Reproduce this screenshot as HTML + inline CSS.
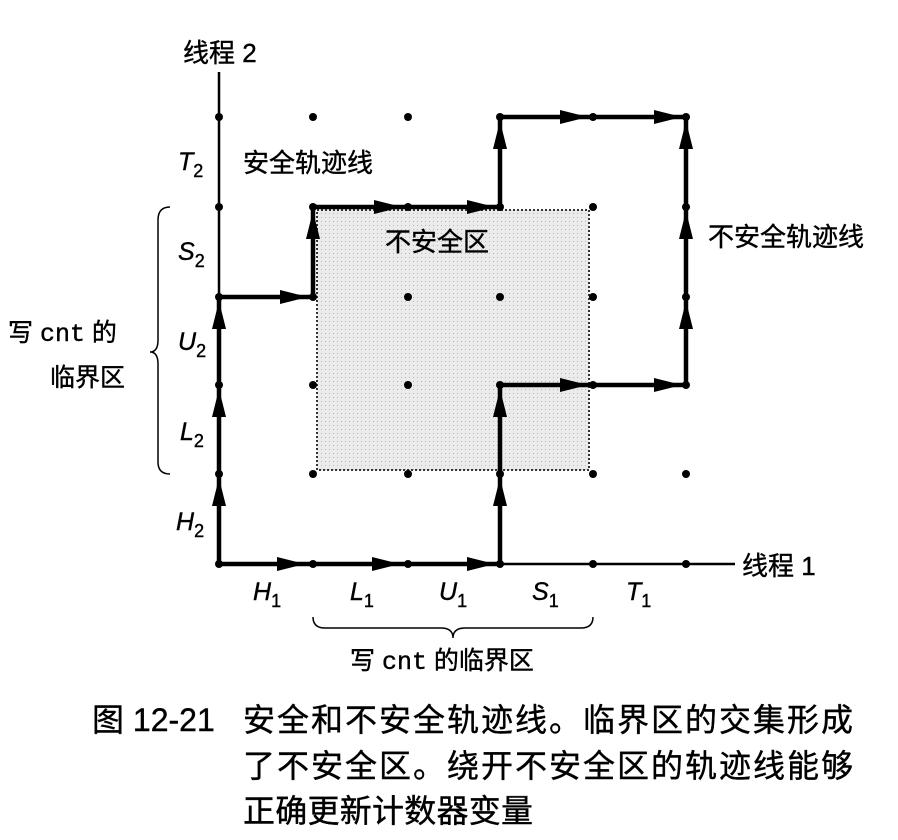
<!DOCTYPE html>
<html><head><meta charset="utf-8"><style>
html,body{margin:0;padding:0;background:#fff;}
svg{display:block;}
text{font-family:"Liberation Sans","Noto Sans CJK SC",sans-serif;fill:#000;stroke:#000;stroke-width:0.4;}
.it{font-style:italic;}
</style></head><body>
<svg width="898" height="840" viewBox="0 0 898 840" xmlns="http://www.w3.org/2000/svg">
<defs>
<pattern id="dots" width="4" height="4" patternUnits="userSpaceOnUse">
<rect width="4" height="4" fill="#ebebeb"/><rect x="1" y="1" width="1" height="1" fill="#b8b8b8"/>
</pattern>
</defs>
<rect x="317" y="210" width="272" height="260" fill="url(#dots)" stroke="#333" stroke-width="2" stroke-dasharray="2,2"/>
<line x1="219" y1="72" x2="219" y2="564" stroke="#000" stroke-width="2.5"/>
<line x1="219" y1="564" x2="735" y2="564" stroke="#000" stroke-width="2.5"/>
<g fill="#000">
<circle cx="219" cy="117" r="4"/><circle cx="313" cy="117" r="4"/><circle cx="408" cy="117" r="4"/><circle cx="500" cy="117" r="4"/><circle cx="593" cy="117" r="4"/><circle cx="686" cy="117" r="4"/>
<circle cx="219" cy="207" r="4"/><circle cx="313" cy="207" r="4"/><circle cx="408" cy="207" r="4"/><circle cx="500" cy="207" r="4"/><circle cx="593" cy="207" r="4"/><circle cx="686" cy="207" r="4"/>
<circle cx="219" cy="297" r="4"/><circle cx="313" cy="297" r="4"/><circle cx="408" cy="297" r="4"/><circle cx="500" cy="297" r="4"/><circle cx="593" cy="297" r="4"/><circle cx="686" cy="297" r="4"/>
<circle cx="219" cy="385" r="4"/><circle cx="313" cy="385" r="4"/><circle cx="408" cy="385" r="4"/><circle cx="500" cy="385" r="4"/><circle cx="593" cy="385" r="4"/><circle cx="686" cy="385" r="4"/>
<circle cx="219" cy="474" r="4"/><circle cx="313" cy="474" r="4"/><circle cx="408" cy="474" r="4"/><circle cx="500" cy="474" r="4"/><circle cx="593" cy="474" r="4"/><circle cx="686" cy="474" r="4"/>
<circle cx="219" cy="564" r="4"/><circle cx="313" cy="564" r="4"/><circle cx="408" cy="564" r="4"/><circle cx="500" cy="564" r="4"/><circle cx="593" cy="564" r="4"/><circle cx="686" cy="564" r="4"/>
</g>
<polyline points="219,564 219,297 313,297 313,207 500,207 500,117 686,117" fill="none" stroke="#000" stroke-width="4.5"/>
<polyline points="219,564 500,564 500,385 686,385 686,117" fill="none" stroke="#000" stroke-width="4.5"/>
<g fill="#000">
<polygon points="219,478 212,506 226,506"/>
<polygon points="219,389 212,417 226,417"/>
<polygon points="219,301 212,329 226,329"/>
<polygon points="308,297 280,290 280,304"/>
<polygon points="313,211 306,239 320,239"/>
<polygon points="402,207 374,200 374,214"/>
<polygon points="495,207 467,200 467,214"/>
<polygon points="500,121 493,149 507,149"/>
<polygon points="588,117 560,110 560,124"/>
<polygon points="682,117 654,110 654,124"/>
<polygon points="305,564 277,557 277,571"/>
<polygon points="400,564 372,557 372,571"/>
<polygon points="495,564 467,557 467,571"/>
<polygon points="500,478 493,506 507,506"/>
<polygon points="500,389 493,417 507,417"/>
<polygon points="588,385 560,378 560,392"/>
<polygon points="682,385 654,378 654,392"/>
<polygon points="686,301 679,329 693,329"/>
<polygon points="686,211 679,239 693,239"/>
<polygon points="686,121 679,149 693,149"/>
</g>
<path d="M170,207 Q158,207 158,220 L158,340 Q158,352 150,352 Q158,352 158,364 L158,462 Q158,474 170,474" fill="none" stroke="#000" stroke-width="1.5"/>
<path d="M313,617 Q313,628 325,628 L441,628 Q453,628 453,638 Q453,628 465,628 L581,628 Q593,628 593,617" fill="none" stroke="#000" stroke-width="1.5"/>
<text x="183" y="62" font-size="26">线程 2</text>
<text x="742" y="575" font-size="26">线程 1</text>
<text x="243" y="172" font-size="26">安全轨迹线</text>
<text x="385" y="251" font-size="26">不安全区</text>
<text x="708" y="246" font-size="26">不安全轨迹线</text>
<text x="8" y="341" font-size="25">写 <tspan font-family="Liberation Mono">cnt</tspan> 的</text>
<text x="50" y="386" font-size="25">临界区</text>
<text x="350" y="669" font-size="25">写 <tspan font-family="Liberation Mono">cnt</tspan> 的临界区</text>
<g font-size="25" class="it">
<text x="178" y="170">T<tspan font-size="18" dy="7" font-style="normal">2</tspan></text>
<text x="178" y="260">S<tspan font-size="18" dy="7" font-style="normal">2</tspan></text>
<text x="178" y="350">U<tspan font-size="18" dy="7" font-style="normal">2</tspan></text>
<text x="180" y="440">L<tspan font-size="18" dy="7" font-style="normal">2</tspan></text>
<text x="176" y="530">H<tspan font-size="18" dy="7" font-style="normal">2</tspan></text>
<text x="253" y="600">H<tspan font-size="18" dy="7" font-style="normal">1</tspan></text>
<text x="350" y="600">L<tspan font-size="18" dy="7" font-style="normal">1</tspan></text>
<text x="439" y="600">U<tspan font-size="18" dy="7" font-style="normal">1</tspan></text>
<text x="532" y="600">S<tspan font-size="18" dy="7" font-style="normal">1</tspan></text>
<text x="626" y="600">T<tspan font-size="18" dy="7" font-style="normal">1</tspan></text>
</g>
<g font-size="32">
<text x="92" y="731" font-family="'Liberation Serif','Noto Serif CJK SC',serif">图 12-21</text>
<text x="243" y="731" textLength="610" lengthAdjust="spacing">安全和不安全轨迹线。临界区的交集形成</text>
<text x="243" y="777" textLength="610" lengthAdjust="spacing">了不安全区。绕开不安全区的轨迹线能够</text>
<text x="243" y="822" textLength="290" lengthAdjust="spacing">正确更新计数器变量</text>
</g>
</svg>
</body></html>
